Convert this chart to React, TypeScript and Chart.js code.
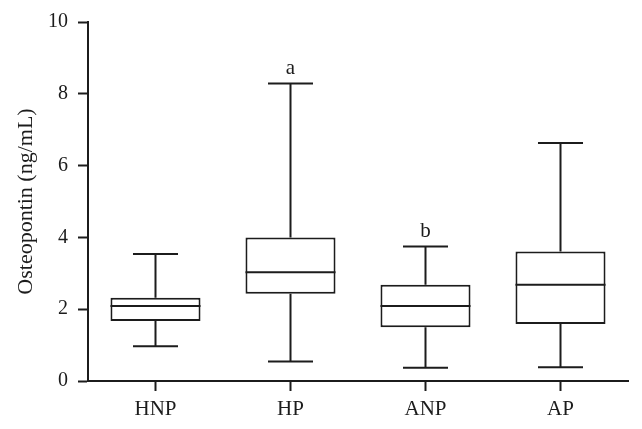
import React, { useEffect, useRef } from "react";
import { Chart, registerables } from "chart.js";

Chart.register(...registerables);

const categories = ["HNP", "HP", "ANP", "AP"];
const whiskerLow = [0.97, 0.54, 0.37, 0.38];
const q1 = [1.67, 2.43, 1.5, 1.59];
const median = [2.09, 3.03, 2.09, 2.68];
const q3 = [2.32, 4.0, 2.68, 3.61];
const whiskerHigh = [3.54, 8.29, 3.75, 6.63];
const annotations = ["", "a", "b", ""];
const yMin = 0;
const yMax = 10;
const yStep = 2;
const yTitle = "Osteopontin (ng/mL)";

const INK = "#1c1c1c";
const FONT = "'Liberation Serif', 'Times New Roman', serif";

const boxPlugin = {
  id: "boxWhiskers",
  afterDatasetsDraw(chart: any) {
    const { ctx, scales } = chart;
    const x = scales.x;
    const y = scales.y;
    const meta = chart.getDatasetMeta(0);
    ctx.save();
    ctx.strokeStyle = INK;
    ctx.lineWidth = 2;
    ctx.lineCap = "butt";
    meta.data.forEach((bar: any, i: number) => {
      const cx = x.getPixelForValue(i);
      const half = bar.width / 2;
      const capHalf = half / 2;
      const yMed = y.getPixelForValue(median[i]);
      const yQ1 = y.getPixelForValue(q1[i]);
      const yQ3 = y.getPixelForValue(q3[i]);
      const yHi = y.getPixelForValue(whiskerHigh[i]);
      const yLo = y.getPixelForValue(whiskerLow[i]);
      ctx.beginPath();
      ctx.moveTo(cx - half, yMed);
      ctx.lineTo(cx + half, yMed);
      ctx.moveTo(cx, yQ3);
      ctx.lineTo(cx, yHi);
      ctx.moveTo(cx - capHalf, yHi);
      ctx.lineTo(cx + capHalf, yHi);
      ctx.moveTo(cx, yQ1);
      ctx.lineTo(cx, yLo);
      ctx.moveTo(cx - capHalf, yLo);
      ctx.lineTo(cx + capHalf, yLo);
      ctx.stroke();
      if (annotations[i]) {
        ctx.fillStyle = INK;
        ctx.font = `21px ${FONT}`;
        ctx.textAlign = "center";
        ctx.textBaseline = "alphabetic";
        ctx.fillText(annotations[i], cx, yHi - 9);
      }
    });
    ctx.restore();
  },
};

export default function App() {
  const ref = useRef<HTMLCanvasElement | null>(null);

  useEffect(() => {
    document.body.style.margin = "0";
    const canvas = ref.current;
    if (!canvas) return;
    const boxData = categories.map((_, i) => [q1[i], q3[i]]);
    const chart = new Chart(canvas, {
      type: "bar",
      data: {
        labels: categories,
        datasets: [
          {
            data: boxData as any,
            backgroundColor: "#ffffff",
            borderColor: INK,
            borderWidth: 2,
            borderSkipped: false,
            categoryPercentage: 1,
            barPercentage: 0.667,
          },
        ],
      },
      options: {
        responsive: false,
        animation: false,
        events: [],
        layout: { padding: { top: 22, right: 14, bottom: 0, left: 0 } },
        plugins: {
          legend: { display: false },
          tooltip: { enabled: false },
        },
        scales: {
          x: {
            type: "category",
            offset: true,
            afterFit: (s: any) => {
              s.height = 48;
            },
            grid: {
              offset: false,
              drawOnChartArea: false,
              drawTicks: true,
              tickLength: 10,
              tickWidth: 2,
              tickColor: INK,
            },
            border: { display: true, color: INK, width: 2 },
            ticks: {
              color: INK,
              font: { family: FONT, size: 21 },
              padding: 6,
              maxRotation: 0,
            },
          },
          y: {
            min: yMin,
            max: yMax,
            afterFit: (s: any) => {
              s.width = 88;
            },
            grid: {
              drawOnChartArea: false,
              drawTicks: true,
              tickLength: 10,
              tickWidth: 2,
              tickColor: INK,
            },
            border: { display: true, color: INK, width: 2 },
            ticks: {
              stepSize: yStep,
              color: INK,
              font: { family: FONT, size: 20 },
              padding: 10,
            },
            title: {
              display: true,
              text: yTitle,
              color: INK,
              font: { family: FONT, size: 22 },
              padding: { top: 13, bottom: 0 },
            },
          },
        },
      },
      plugins: [boxPlugin],
    });
    return () => chart.destroy();
  }, []);

  return <canvas ref={ref} width={642} height={429} style={{ display: "block" }} />;
}
